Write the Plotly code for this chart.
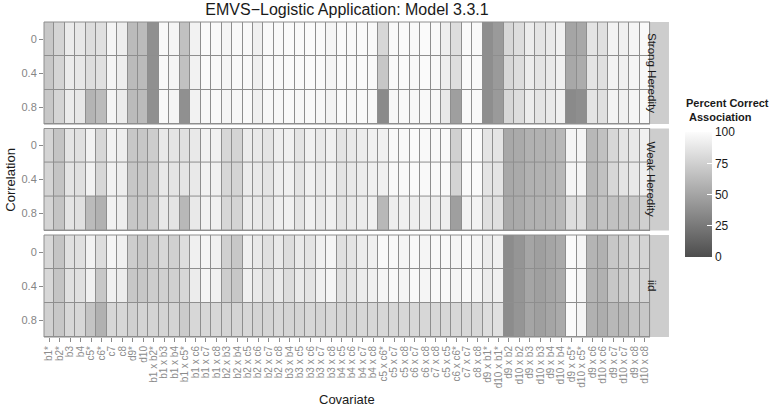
import plotly.graph_objects as go
from plotly.subplots import make_subplots

covariates = [
    "b1*", "b2*", "b3", "b4", "c5*", "c6*", "c7", "c8", "d9*", "d10",
    "b1 x b2*", "b1 x b3", "b1 x b4", "b1 x c5*", "b1 x c6", "b1 x c7", "b1 x c8",
    "b2 x b3", "b2 x b4", "b2 x c5", "b2 x c6", "b2 x c7", "b2 x c8",
    "b3 x b4", "b3 x c5", "b3 x c6", "b3 x c7", "b3 x c8",
    "b4 x c5", "b4 x c6", "b4 x c7", "b4 x c8",
    "c5 x c6*", "c5 x c7", "c5 x c8", "c6 x c7", "c6 x c8", "c7 x c8",
    "c5 x c5", "c6 x c6*", "c7 x c7", "c8 x c8",
    "d9 x b1*", "d10 x b1*", "d9 x b2", "d10 x b2", "d9 x b3", "d10 x b3",
    "d9 x b4", "d10 x b4", "d9 x c5*", "d10 x c5*", "d9 x c6", "d10 x c6",
    "d9 x c7", "d10 x c7", "d9 x c8", "d10 x c8",
]
correlations = ["0", "0.4", "0.8"]
panels = ["Strong Heredity", "Weak Heredity", "iid"]
colorbar_ticks = [0, 25, 50, 75, 100]

strong_0 = [70, 77, 90, 88, 82, 84, 96, 92, 63, 63, 38, 98, 96, 66, 94, 99, 98, 96, 98, 98,
            93, 98, 98, 99, 98, 99, 98, 96, 99, 98, 99, 98, 79, 98, 99, 98, 99, 98, 92, 82,
            99, 98, 37, 44, 79, 82, 91, 86, 89, 93, 50, 52, 86, 84, 95, 93, 96, 98]
strong_4 = [70, 77, 90, 88, 82, 84, 96, 92, 63, 63, 38, 98, 96, 66, 94, 99, 98, 96, 98, 98,
            93, 98, 98, 99, 98, 99, 98, 96, 99, 98, 99, 98, 70, 98, 99, 98, 99, 98, 92, 82,
            99, 98, 37, 44, 79, 82, 91, 86, 89, 93, 52, 54, 86, 84, 95, 93, 96, 98]
strong_8 = [70, 77, 90, 88, 59, 63, 96, 91, 63, 63, 38, 98, 96, 38, 94, 97, 98, 96, 97, 98,
            93, 97, 97, 98, 97, 98, 97, 95, 98, 97, 98, 97, 35, 97, 98, 97, 98, 97, 89, 47,
            98, 98, 37, 44, 79, 82, 91, 86, 89, 93, 35, 37, 86, 84, 95, 93, 96, 98]

weak_0 = [77, 68, 86, 84, 94, 79, 94, 92, 70, 70, 73, 89, 86, 84, 89, 94, 93, 79, 77, 91,
          89, 86, 92, 93, 86, 93, 89, 93, 86, 89, 91, 93, 93, 98, 98, 99, 98, 98, 98, 75,
          99, 99, 86, 86, 52, 53, 57, 57, 59, 61, 96, 96, 61, 66, 79, 86, 89, 93]
weak_4 = [77, 68, 86, 84, 94, 79, 94, 92, 70, 70, 73, 89, 86, 86, 89, 94, 93, 79, 77, 91,
          89, 86, 92, 93, 86, 93, 89, 93, 86, 89, 91, 93, 93, 98, 98, 99, 98, 98, 98, 77,
          99, 99, 86, 86, 52, 53, 57, 57, 59, 61, 96, 96, 61, 66, 79, 86, 89, 93]
weak_8 = [77, 68, 86, 84, 63, 57, 94, 92, 70, 70, 73, 89, 86, 61, 89, 94, 93, 79, 77, 91,
          89, 86, 92, 93, 86, 93, 89, 93, 86, 89, 91, 93, 61, 92, 93, 92, 93, 92, 92, 47,
          95, 95, 84, 84, 52, 53, 57, 57, 59, 61, 82, 82, 61, 66, 66, 68, 70, 75]

iid_0 = [79, 68, 84, 84, 94, 82, 96, 93, 73, 70, 73, 79, 75, 82, 93, 96, 93, 75, 70, 93,
         89, 84, 89, 82, 89, 86, 93, 96, 84, 86, 91, 93, 98, 98, 96, 98, 96, 98, 98, 96,
         98, 96, 91, 93, 36, 41, 50, 47, 50, 53, 99, 96, 59, 57, 70, 73, 79, 77]
iid_4 = [79, 68, 84, 84, 93, 70, 93, 91, 70, 70, 73, 75, 75, 79, 91, 96, 93, 73, 70, 93,
         89, 84, 89, 82, 89, 86, 93, 96, 84, 86, 91, 93, 96, 98, 96, 98, 96, 98, 98, 96,
         98, 96, 91, 93, 36, 41, 50, 47, 50, 53, 99, 96, 59, 57, 70, 73, 79, 77]
iid_8 = [75, 70, 79, 79, 68, 57, 79, 79, 75, 77, 77, 77, 77, 72, 79, 79, 79, 77, 77, 79,
         77, 77, 79, 77, 77, 79, 77, 79, 77, 77, 79, 79, 79, 79, 79, 79, 79, 79, 79, 79,
         79, 79, 82, 84, 36, 41, 50, 47, 50, 53, 99, 96, 57, 55, 61, 61, 68, 70]

panel_data = [
    [strong_0, strong_4, strong_8],
    [weak_0, weak_4, weak_8],
    [iid_0, iid_4, iid_8],
]

FONT = "Liberation Sans, Arial, sans-serif"
BORDER = "#8e8e8e"

fig = make_subplots(rows=3, cols=1, shared_xaxes=True, vertical_spacing=0.02)

for i, z in enumerate(panel_data):
    fig.add_trace(
        go.Heatmap(
            x=covariates, y=correlations, z=z,
            coloraxis="coloraxis", xgap=1, ygap=1,
            hovertemplate="%{x}<br>%{y}: %{z}<extra></extra>",
        ),
        row=i + 1, col=1,
    )

domains = [[0.6762, 1.0], [0.3381, 0.6619], [0.0, 0.3238]]
for i in range(3):
    ya = "yaxis" if i == 0 else f"yaxis{i+1}"
    xa = "xaxis" if i == 0 else f"xaxis{i+1}"
    fig.layout[ya].update(
        domain=domains[i], autorange="reversed", type="category",
        categoryorder="array", categoryarray=correlations,
        showgrid=False, zeroline=False, showline=False, automargin=False,
        ticks="outside", ticklen=4, tickcolor="#8a8a8a",
        tickfont=dict(family=FONT, size=11, color="#858585"),
    )
    fig.layout[xa].update(
        showgrid=False, zeroline=False, showline=False, automargin=False,
        type="category", categoryorder="array", categoryarray=covariates,
        tickmode="array", tickvals=covariates, ticktext=covariates,
    )
    if i < 2:
        fig.layout[xa].update(showticklabels=False, ticks="")
    else:
        fig.layout[xa].update(
            tickangle=-90, ticks="outside", ticklen=4, tickcolor="#8a8a8a",
            tickfont=dict(family=FONT, size=10, color="#8c8c8c"),
        )
    yref = "y domain" if i == 0 else f"y{i+1} domain"
    xref = "x domain" if i == 0 else f"x{i+1} domain"
    # panel border
    fig.add_shape(type="rect", xref=xref, yref=yref, x0=0, x1=1, y0=0, y1=1,
                  line=dict(color=BORDER, width=1), fillcolor="rgba(0,0,0,0)", layer="above")
    # facet strip
    fig.add_shape(type="rect", xref="paper", yref=yref, x0=1.001, x1=1.0313, y0=0, y1=1,
                  line=dict(width=0), fillcolor="#cdcdcd")
    fig.add_annotation(text=panels[i], xref="paper", yref=yref, x=1.0165, y=0.5,
                       textangle=90, showarrow=False,
                       font=dict(family=FONT, size=11.5, color="#1a1a1a"))

fig.add_annotation(text="Correlation", xref="paper", yref="paper", x=-0.0558, y=0.5,
                   textangle=-90, showarrow=False, xanchor="center", yanchor="middle",
                   font=dict(family=FONT, size=13, color="#1a1a1a"))
fig.add_annotation(text="Covariate", xref="paper", yref="paper", x=0.5, y=-0.197,
                   showarrow=False, xanchor="center", yanchor="middle",
                   font=dict(family=FONT, size=13, color="#1a1a1a"))
fig.add_annotation(text="<b>Percent Correct</b><br><b>&nbsp;Association</b>",
                   xref="paper", yref="paper", x=1.0565, y=0.768,
                   xanchor="left", yanchor="top", align="left", showarrow=False,
                   font=dict(family=FONT, size=11, color="#1a1a1a"))

fig.update_layout(
    width=772, height=414,
    margin=dict(l=44, r=122, t=22, b=77),
    paper_bgcolor="white", plot_bgcolor=BORDER,
    font=dict(family=FONT),
    title=dict(text="EMVS\u2212Logistic Application: Model 3.3.1", x=0.5, xref="paper",
               y=0.977, yref="container", xanchor="center", yanchor="middle",
               font=dict(family=FONT, size=16, color="#1a1a1a")),
    coloraxis=dict(
        cmin=0, cmax=100,
        colorscale=[[0, "#4d4d4d"], [1, "#fcfcfc"]],
        colorbar=dict(
            x=1.0578, xanchor="left", y=0.452, yanchor="middle", ypad=0, xpad=0,
            len=125, lenmode="pixels", thickness=27, thicknessmode="pixels",
            outlinewidth=0, tickmode="array", tickvals=colorbar_ticks,
            ticks="inside", ticklen=5, tickcolor="white",
            tickfont=dict(family=FONT, size=12, color="#1a1a1a"),
        ),
    ),
    showlegend=False,
)

fig.write_html("out.html", config={"displayModeBar": False},
               post_script="document.body.style.margin='0';")
